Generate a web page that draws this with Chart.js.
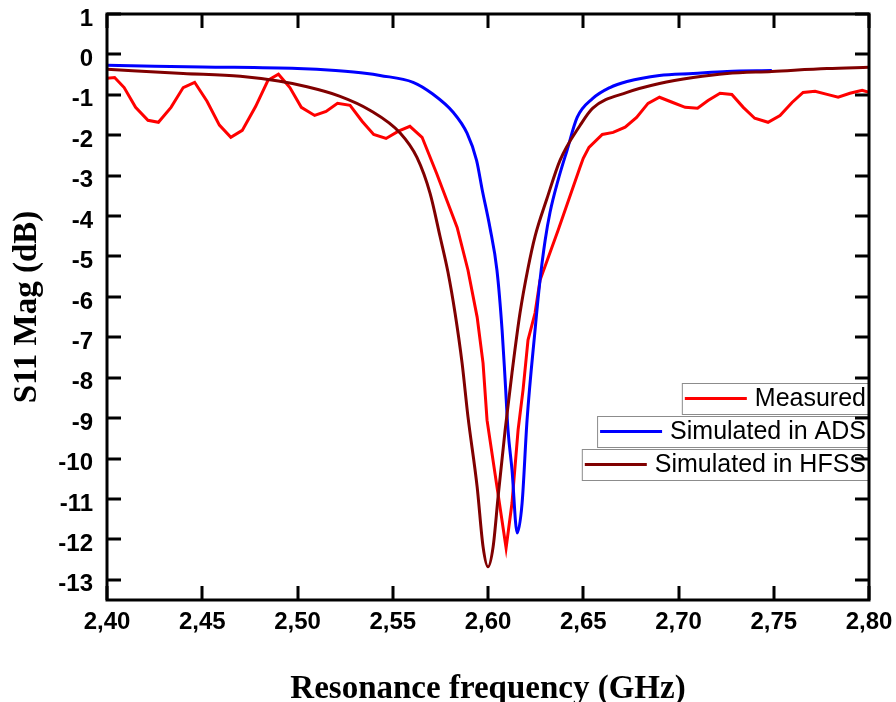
<!DOCTYPE html>
<html>
<head>
<meta charset="utf-8">
<script src="https://cdn.jsdelivr.net/npm/chart.js@4/dist/chart.umd.min.js"></script>
<style>
  html, body { margin: 0; padding: 0; background: #ffffff; }
  #c { display: block; }
</style>
</head>
<body>
<canvas id="c" width="896" height="702"></canvas>
<script>
// Frequency axis (GHz) and S11 magnitude (dB) for each trace
const measuredFreq = [2.400, 2.404, 2.409, 2.415, 2.4215, 2.427, 2.4336, 2.440, 2.446, 2.4525,
  2.459, 2.465, 2.471, 2.478, 2.4845, 2.490, 2.496, 2.502, 2.509, 2.515,
  2.521, 2.5276, 2.534, 2.540, 2.5465, 2.553, 2.559, 2.5654, 2.573, 2.5838,
  2.5895, 2.5943, 2.5974, 2.5995, 2.6095, 2.6126, 2.6158, 2.6184, 2.621, 2.6247,
  2.6273, 2.6368, 2.6483, 2.650, 2.653, 2.660, 2.6657, 2.672, 2.678, 2.684,
  2.690, 2.697, 2.7035, 2.710, 2.7155, 2.7218, 2.728, 2.734, 2.740, 2.747,
  2.7533, 2.7596, 2.7654, 2.7717, 2.778, 2.7838, 2.790, 2.7964, 2.800];
const measuredDb = [-0.59, -0.57, -0.82, -1.31, -1.63, -1.68, -1.31, -0.82, -0.69, -1.16,
  -1.75, -2.05, -1.88, -1.29, -0.64, -0.49, -0.82, -1.31, -1.51, -1.41,
  -1.21, -1.26, -1.66, -1.98, -2.08, -1.90, -1.78, -2.05, -2.94, -4.28,
  -5.34, -6.50, -7.64, -9.05, -12.21, -11.10, -9.29, -8.30, -7.07, -6.40,
  -5.59, -4.35, -2.79, -2.57, -2.30, -1.98, -1.93, -1.80, -1.56, -1.21,
  -1.06, -1.19, -1.31, -1.33, -1.14, -0.96, -0.99, -1.31, -1.58, -1.68,
  -1.51, -1.19, -0.94, -0.91, -0.99, -1.06, -0.96, -0.89, -0.94];

const adsFreq = [2.400, 2.450, 2.500, 2.520, 2.5365, 2.5433, 2.5607, 2.571, 2.5817, 2.589,
  2.594, 2.597, 2.601, 2.6047, 2.6074, 2.609, 2.6105, 2.6126, 2.6153, 2.6179,
  2.6205, 2.6247, 2.6273, 2.630, 2.6326, 2.6368, 2.6415, 2.6468, 2.655, 2.664,
  2.673, 2.690, 2.7077, 2.7255, 2.749];
const adsDb = [-0.27, -0.31, -0.35, -0.40, -0.47, -0.52, -0.69, -0.98, -1.43, -1.95,
  -2.62, -3.36, -4.28, -5.34, -6.82, -8.06, -9.29, -10.28, -11.84, -11.10,
  -9.05, -6.82, -5.59, -4.60, -3.90, -3.11, -2.37, -1.56, -1.09, -0.82,
  -0.67, -0.52, -0.47, -0.42, -0.40];

const hfssFreq = [2.400, 2.440, 2.470, 2.490, 2.505, 2.522, 2.538, 2.554, 2.5627, 2.5696,
  2.5748, 2.579, 2.5827, 2.5864, 2.5895, 2.5943, 2.5974, 2.600, 2.6027, 2.6053,
  2.609, 2.6126, 2.6168, 2.621, 2.6247, 2.631, 2.6378, 2.6483, 2.655, 2.673,
  2.690, 2.7077, 2.7255, 2.749, 2.778, 2.800];
const hfssDb = [-0.37, -0.47, -0.54, -0.66, -0.80, -1.03, -1.38, -1.95, -2.55, -3.44,
  -4.50, -5.39, -6.40, -7.64, -8.97, -10.70, -12.18, -12.68, -12.18, -10.95,
  -9.29, -7.88, -6.40, -5.29, -4.50, -3.56, -2.62, -1.76, -1.33, -0.94,
  -0.72, -0.57, -0.47, -0.42, -0.35, -0.32];

const seriesNames = ['Measured', 'Simulated in ADS', 'Simulated in HFSS'];
const seriesColors = ['#ff0000', '#0000ff', '#800000'];

const xTickValues = [2.40, 2.45, 2.50, 2.55, 2.60, 2.65, 2.70, 2.75, 2.80];
const yTickValues = [1, 0, -1, -2, -3, -4, -5, -6, -7, -8, -9, -10, -11, -12, -13];

const toPoints = (xs, ys) => xs.map((x, i) => ({ x: x, y: ys[i] }));

// Closed frame with inward-pointing ticks on all four sides
const framePlugin = {
  id: 'frame',
  afterDraw(chart) {
    const { ctx, chartArea: a, scales } = chart;
    const len = 14;
    ctx.save();
    ctx.strokeStyle = '#000';
    ctx.lineWidth = 3;
    ctx.lineCap = 'butt';
    ctx.beginPath();
    xTickValues.forEach(v => {
      const px = Math.round(scales.x.getPixelForValue(v));
      ctx.moveTo(px, a.bottom); ctx.lineTo(px, a.bottom - len);
      ctx.moveTo(px, a.top); ctx.lineTo(px, a.top + len);
    });
    yTickValues.forEach(v => {
      const py = Math.round(scales.y.getPixelForValue(v));
      ctx.moveTo(a.left, py); ctx.lineTo(a.left + len, py);
      ctx.moveTo(a.right, py); ctx.lineTo(a.right - len, py);
    });
    ctx.stroke();
    ctx.strokeRect(a.left, a.top, a.right - a.left, a.bottom - a.top);
    ctx.restore();
  }
};

// Right-aligned stacked legend boxes, one per series
const legendPlugin = {
  id: 'boxLegend',
  afterDatasetsDraw(chart) {
    const { ctx, chartArea: a } = chart;
    ctx.save();
    ctx.font = '25px "Liberation Sans", Arial, sans-serif';
    ctx.textBaseline = 'middle';
    const tops = [383, 416, 449];
    const h = 31;
    seriesNames.forEach((name, i) => {
      const tw = ctx.measureText(name).width;
      const right = a.right;
      const left = right - 3 - tw - 8 - 62 - 3;
      const top = tops[i];
      ctx.fillStyle = '#fff';
      ctx.fillRect(left, top, right - left, h);
      ctx.strokeStyle = '#8c8c8c';
      ctx.lineWidth = 1;
      ctx.strokeRect(left + 0.5, top + 0.5, right - left, h);
      const cy = top + h / 2;
      ctx.strokeStyle = seriesColors[i];
      ctx.lineWidth = 3;
      ctx.beginPath();
      ctx.moveTo(left + 3, cy);
      ctx.lineTo(left + 65, cy);
      ctx.stroke();
      ctx.fillStyle = '#000';
      ctx.fillText(name, left + 73, cy + 1);
    });
    ctx.restore();
  }
};

const tickFont = { family: '"Liberation Sans", Arial, sans-serif', size: 24, weight: 'bold' };
const titleFontX = { family: '"Liberation Serif", "Times New Roman", serif', size: 33, weight: 'bold', lineHeight: 0.76 };
const titleFontY = { family: '"Liberation Serif", "Times New Roman", serif', size: 33, weight: 'bold', lineHeight: 1.0 };

new Chart(document.getElementById('c'), {
  type: 'line',
  data: {
    datasets: [
      { label: seriesNames[0], data: toPoints(measuredFreq, measuredDb), borderColor: seriesColors[0],
        borderWidth: 3, pointRadius: 0, tension: 0, order: 3 },
      { label: seriesNames[1], data: toPoints(adsFreq, adsDb), borderColor: seriesColors[1],
        borderWidth: 3, pointRadius: 0, cubicInterpolationMode: 'monotone', order: 2 },
      { label: seriesNames[2], data: toPoints(hfssFreq, hfssDb), borderColor: seriesColors[2],
        borderWidth: 3, pointRadius: 0, cubicInterpolationMode: 'monotone', order: 1 }
    ]
  },
  options: {
    responsive: false,
    animation: false,
    layout: { padding: { top: 14, right: 27, left: 0, bottom: 0 } },
    plugins: { legend: { display: false }, tooltip: { enabled: false } },
    scales: {
      x: {
        type: 'linear',
        min: 2.40,
        max: 2.80,
        grid: { display: false, drawTicks: false },
        border: { display: false },
        afterBuildTicks: s => { s.ticks = xTickValues.map(v => ({ value: v })); },
        afterFit: s => { s.height = 102; s.paddingLeft = 0; s.paddingRight = 0; },
        ticks: {
          color: '#000',
          font: tickFont,
          padding: 8,
          maxRotation: 0,
          autoSkip: false,
          callback: v => v.toFixed(2).replace('.', ',')
        },
        title: {
          display: true,
          text: 'Resonance frequency (GHz)',
          color: '#000',
          font: titleFontX,
          padding: { top: 0, bottom: 0 }
        }
      },
      y: {
        min: -13.5,
        max: 1,
        grid: { display: false, drawTicks: false },
        border: { display: false },
        afterBuildTicks: s => { s.ticks = yTickValues.map(v => ({ value: v })); },
        afterFit: s => { s.width = 107; s.paddingTop = 0; s.paddingBottom = 0; },
        ticks: {
          color: '#000',
          font: tickFont,
          padding: 14,
          labelOffset: 5,
          autoSkip: false,
          callback: v => String(v)
        },
        title: {
          display: true,
          text: 'S11 Mag (dB)',
          color: '#000',
          font: titleFontY,
          padding: { top: 11, bottom: 0 }
        }
      }
    }
  },
  plugins: [framePlugin, legendPlugin]
});
</script>
</body>
</html>
